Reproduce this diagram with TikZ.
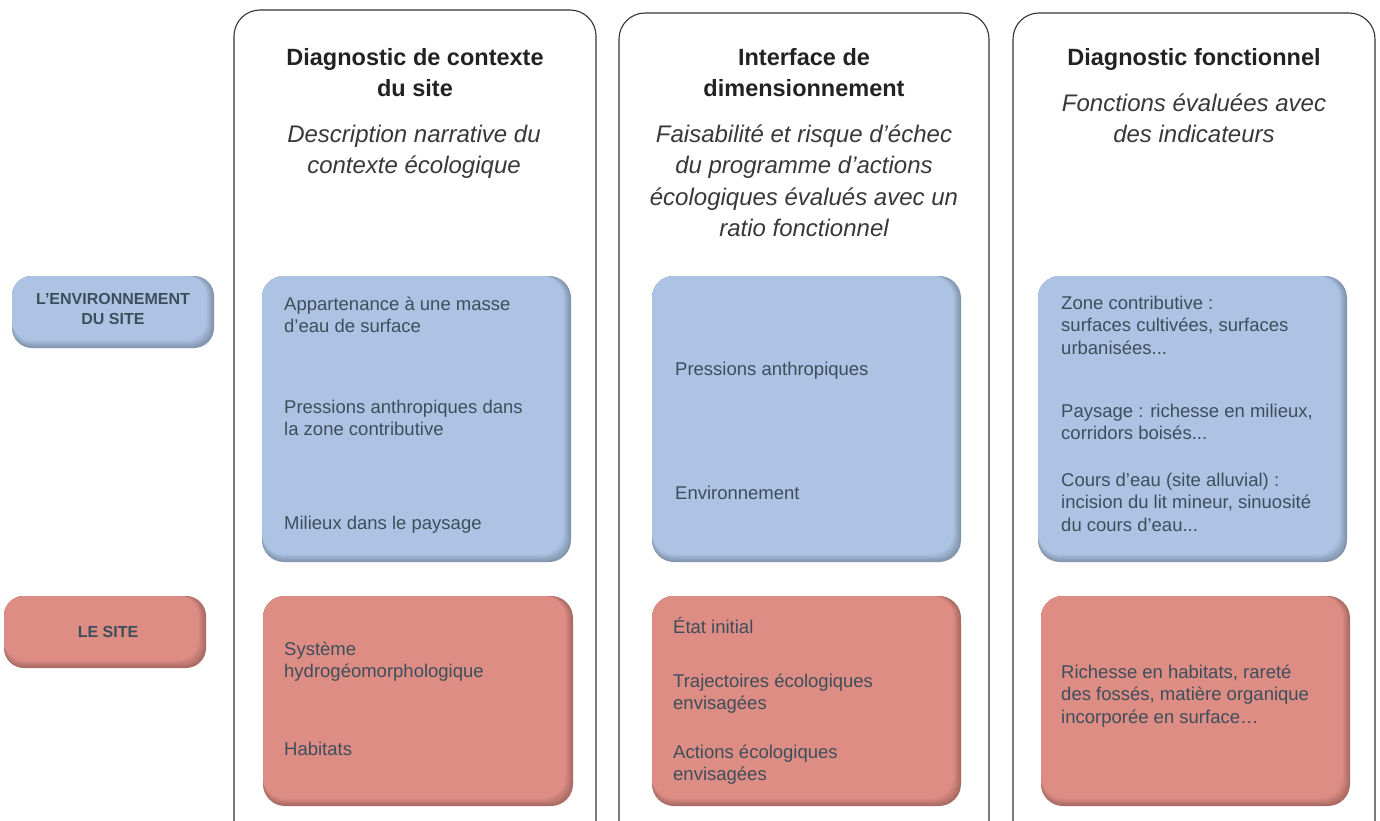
\documentclass[tikz,border=0pt]{standalone}
\usepackage{fontspec}
\setmainfont{Liberation Sans}
\definecolor{bluebox}{HTML}{ACC3E4}
\definecolor{redbox}{HTML}{DE8D84}
\definecolor{txt}{HTML}{3D4E5B}
\definecolor{ttl}{HTML}{222222}
\newcommand\shbox[6]{%
  \fill[#6!76!black, rounded corners=#1] (#2,#3) rectangle (#4,#5);
  \fill[#6!81!black, rounded corners=#1] (#2,#3) rectangle (#4-1.5,#5-1.5);
  \fill[#6!86!black, rounded corners=#1] (#2,#3) rectangle (#4-3,#5-3);
  \fill[#6!91!black, rounded corners=#1] (#2,#3) rectangle (#4-4.5,#5-4.5);
  \fill[#6!96!black, rounded corners=#1] (#2,#3) rectangle (#4-6,#5-6);
  \fill[#6, rounded corners=#1] (#2,#3) rectangle (#4-7.5,#5-7.5);
}
\tikzset{
  body/.style={anchor=north west, inner sep=0pt, align=left, text=txt,
    font=\fontsize{18.5}{22.5}\selectfont},
  title/.style={anchor=north, inner sep=0pt, align=center, text=ttl,
    font=\fontsize{23.5}{31}\selectfont\bfseries},
  subtitle/.style={anchor=north, inner sep=0pt, align=center, text=ttl!90,
    font=\fontsize{24}{31.5}\selectfont\itshape},
  lab/.style={anchor=center, inner sep=0pt, align=center, text=txt,
    font=\fontsize{16}{19.5}\selectfont\bfseries},
  column/.style={draw=black!80, line width=1.1pt, rounded corners=26pt},
}
\begin{document}
\begin{tikzpicture}[x=1pt,y=-1pt]
\useasboundingbox (0,0) rectangle (1380,821);
\begin{scope}
\clip (0,0) rectangle (1380,821);
\draw[column] (234,860) -- (234,10) -- (596,10) -- (596,860);
\draw[column] (619,860) -- (619,13) -- (989,13) -- (989,860);
\draw[column] (1013,860) -- (1013,13) -- (1375,13) -- (1375,860);
\end{scope}

% left labels
\shbox{20pt}{12}{276}{214}{348}{bluebox}
\shbox{20pt}{4}{596}{206}{668}{redbox}
\node[lab] (lenv) at (113,309) {L’ENVIRONNEMENT\\DU SITE};
\node[lab] (lsite) at (108,632) {LE SITE};

% blue boxes
\shbox{22pt}{262}{276}{571}{562}{bluebox}
\shbox{22pt}{652}{276}{961}{562}{bluebox}
\shbox{22pt}{1038}{276}{1347}{562}{bluebox}
% red boxes
\shbox{22pt}{263}{596}{573}{806}{redbox}
\shbox{22pt}{652}{596}{961}{806}{redbox}
\shbox{22pt}{1041}{596}{1350}{806}{redbox}

% titles
\node[title] (t1) at (415,43.5) {\strut Diagnostic de contexte\\du site};
\node[subtitle] (s1) at (414,120) {\strut Description narrative du\\contexte écologique};
\node[title] (t2) at (804,43.5) {\strut Interface de\\dimensionnement};
\node[subtitle] (s2) at (804,120) {\strut Faisabilité et risque d’échec\\du programme d’actions\\écologiques évalués avec un\\ratio fonctionnel};
\node[title] (t3) at (1194,43.5) {\strut Diagnostic fonctionnel};
\node[subtitle] (s3) at (1194,89) {\strut Fonctions évaluées avec\\des indicateurs};

% column 1 blue
\node[body] (b11) at (284,294.5) {\strut Appartenance à une masse\\d’eau de surface};
\node[body] (b12) at (284,397.5) {\strut Pressions anthropiques dans\\la zone contributive};
\node[body] (b13) at (284,513.5) {\strut Milieux dans le paysage};
% column 2 blue
\node[body] (b21) at (675,359.5) {\strut Pressions anthropiques};
\node[body] (b22) at (675,483.5) {\strut Environnement};
% column 3 blue
\node[body] (b31) at (1061,293.5) {\strut Zone contributive :\\surfaces cultivées, surfaces\\urbanisées...};
\node[body] (b32) at (1061,401.5) {\strut Paysage : richesse en milieux,\\corridors boisés...};
\node[body] (b33) at (1061,470.5) {\strut Cours d’eau (site alluvial) :\\incision du lit mineur, sinuosité\\du cours d’eau...};
% column 1 red
\node[body] (r11) at (284,639.5) {\strut Système\\hydrogéomorphologique};
\node[body] (r12) at (284,739.5) {\strut Habitats};
% column 2 red
\node[body] (r21) at (673,617.5) {\strut État initial};
\node[body] (r22) at (673,671.5) {\strut Trajectoires écologiques\\envisagées};
\node[body] (r23) at (673,742.5) {\strut Actions écologiques\\envisagées};
% column 3 red
\node[body] (r31) at (1061,662.5) {\strut Richesse en habitats, rareté\\des fossés, matière organique\\incorporée en surface…};
\end{tikzpicture}
\end{document}
